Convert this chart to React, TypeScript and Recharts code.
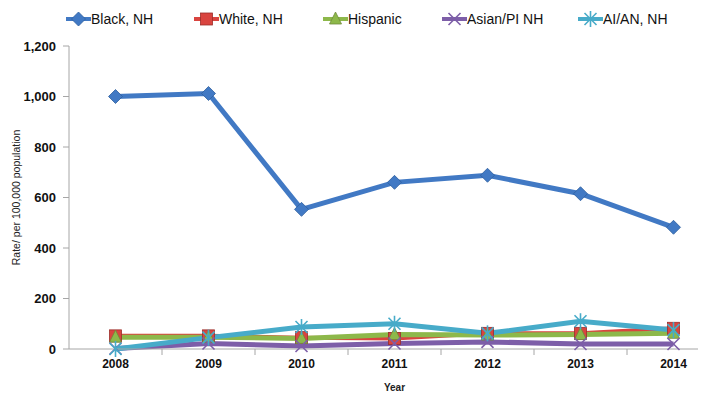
import React from 'react';
import { LineChart, Line, XAxis, YAxis, Label } from 'recharts';

const years = ['2008', '2009', '2010', '2011', '2012', '2013', '2014'];
const blackNH = [1000, 1012, 553, 660, 688, 615, 482];
const whiteNH = [52, 52, 45, 42, 62, 62, 82];
const hispanic = [47, 47, 42, 57, 55, 57, 62];
const asianPI = [2, 22, 12, 22, 28, 20, 20];
const aian = [0, 45, 87, 100, 62, 110, 75];
const yTicks = [0, 200, 400, 600, 800, 1000, 1200];

const data = years.map((year, i) => ({
  year,
  black: blackNH[i],
  white: whiteNH[i],
  hispanic: hispanic[i],
  asian: asianPI[i],
  aian: aian[i],
}));

const CHART_W = 730;
const PLOT_LEFT = 69;
const PLOT_RIGHT = 720;
const BAND = (PLOT_RIGHT - PLOT_LEFT) / years.length;

const Diamond = ({ cx, cy, fill }: any) => (
  <path d={`M${cx},${cy - 7} L${cx + 7},${cy} L${cx},${cy + 7} L${cx - 7},${cy} Z`} fill={fill} stroke="#2f5f9e" strokeWidth={0.8} />
);
const Square = ({ cx, cy, fill }: any) => (
  <rect x={cx - 6} y={cy - 6} width={12} height={12} fill={fill} stroke="#9b2d2a" strokeWidth={0.8} />
);
const Triangle = ({ cx, cy, fill }: any) => (
  <path d={`M${cx},${cy - 7} L${cx + 6},${cy + 5} L${cx - 6},${cy + 5} Z`} fill={fill} stroke="#6f8a3a" strokeWidth={0.8} />
);
const Cross = ({ cx, cy, color }: any) => (
  <g stroke={color} strokeWidth={1.6}>
    <line x1={cx - 6} y1={cy - 6} x2={cx + 6} y2={cy + 6} />
    <line x1={cx - 6} y1={cy + 6} x2={cx + 6} y2={cy - 6} />
  </g>
);
const Star = ({ cx, cy, color }: any) => (
  <g stroke={color} strokeWidth={1.6}>
    <line x1={cx - 6} y1={cy - 6} x2={cx + 6} y2={cy + 6} />
    <line x1={cx - 6} y1={cy + 6} x2={cx + 6} y2={cy - 6} />
    <line x1={cx} y1={cy - 8} x2={cx} y2={cy + 8} />
  </g>
);

const series = [
  { key: 'black', name: 'Black, NH', color: '#4179c4', width: 5, legendX: 66 },
  { key: 'white', name: 'White, NH', color: '#d9443f', width: 4, legendX: 194 },
  { key: 'hispanic', name: 'Hispanic', color: '#8db84a', width: 5, legendX: 323 },
  { key: 'asian', name: 'Asian/PI NH', color: '#7d5ea8', width: 5, legendX: 442 },
  { key: 'aian', name: 'AI/AN, NH', color: '#47abc9', width: 5, legendX: 578 },
];

const renderMarker = (key: string, color: string, cx: number, cy: number) => {
  if (key === 'black') return <Diamond cx={cx} cy={cy} fill={color} />;
  if (key === 'white') return <Square cx={cx} cy={cy} fill={color} />;
  if (key === 'hispanic') return <Triangle cx={cx} cy={cy} fill={color} />;
  if (key === 'asian') return <Cross cx={cx} cy={cy} color={color} />;
  return <Star cx={cx} cy={cy} color={color} />;
};

const XTick = ({ x, payload }: any) => (
  <g>
    <line x1={x + BAND / 2} y1={349} x2={x + BAND / 2} y2={355} stroke="#a6a6a6" />
    <text x={x} y={368} textAnchor="middle" fontSize={12} fontWeight="bold" fill="#111">
      {payload.value}
    </text>
  </g>
);

export default function App() {
  return (
    <div
      style={{
        position: 'relative',
        marginLeft: -8,
        marginTop: -8,
        width: 706,
        height: 395,
        overflow: 'hidden',
        background: '#fff',
        fontFamily: 'Arial, "Liberation Sans", sans-serif',
      }}
    >
      {series.map((s) => (
        <div
          key={s.key}
          style={{ position: 'absolute', left: s.legendX, top: 10, height: 18, display: 'flex', alignItems: 'center' }}
        >
          <svg width={25} height={18}>
            <line x1={0} y1={9} x2={25} y2={9} stroke={s.color} strokeWidth={4} />
            {renderMarker(s.key, s.color, 12.5, 9)}
          </svg>
          <span style={{ fontSize: 14, color: '#111', whiteSpace: 'nowrap' }}>{s.name}</span>
        </div>
      ))}
      <LineChart
        width={CHART_W}
        height={395}
        data={data}
        margin={{ top: 46, right: CHART_W - PLOT_RIGHT, bottom: 0, left: 0 }}
        style={{ position: 'absolute', left: 0, top: 0 }}
      >
        <XAxis
          dataKey="year"
          height={46}
          stroke="#a6a6a6"
          tickLine={false}
          tick={<XTick />}
          interval={0}
          padding={{ left: BAND / 2, right: BAND / 2 }}
        >
          <Label value="Year" position="insideBottom" offset={4} style={{ fontSize: 10, fontWeight: 'bold', fill: '#222' }} />
        </XAxis>
        <YAxis
          width={PLOT_LEFT}
          domain={[0, 1200]}
          ticks={yTicks}
          stroke="#a6a6a6"
          tickSize={6}
          tickMargin={7}
          tick={{ fontSize: 13, fontWeight: 'bold', fill: '#111' }}
          tickFormatter={(v: number) => v.toLocaleString('en-US')}
        >
          <Label
            value="Rate/ per 100,000 population"
            angle={-90}
            position="insideLeft"
            offset={16}
            style={{ fontSize: 10.5, fill: '#222', textAnchor: 'middle' }}
          />
        </YAxis>
        {series.map((s) => (
          <Line
            key={s.key}
            dataKey={s.key}
            name={s.name}
            stroke={s.color}
            strokeWidth={s.width}
            isAnimationActive={false}
            dot={(p: any) => <g key={`${s.key}-${p.index}`}>{renderMarker(s.key, s.color, p.cx, p.cy)}</g>}
            activeDot={false}
          />
        ))}
      </LineChart>
    </div>
  );
}
